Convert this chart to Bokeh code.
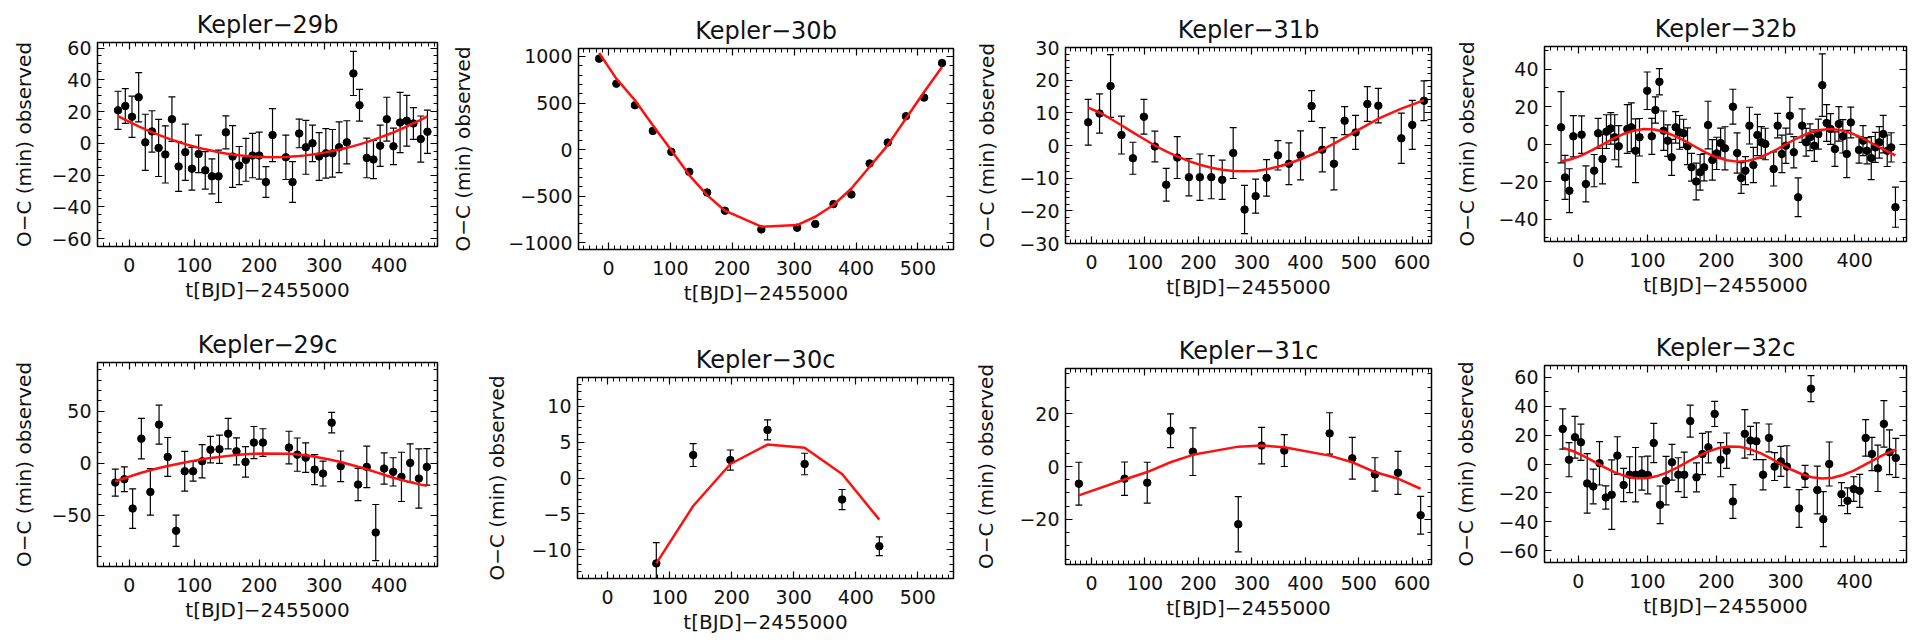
from bokeh.plotting import figure
from bokeh.layouts import column, row
from bokeh.models import LinearAxis, SingleIntervalTicker, CustomJSTickFormatter, Range1d
from bokeh.embed import file_html
from bokeh.resources import INLINE

# ---------------- data ----------------
k29b_t = [-17.4, -6.2, 4.1, 14.4, 24.6, 34.9, 45.1, 55.4, 65.6, 75.9, 86.2, 96.4, 106.7, 116.9, 127.2,
          137.4, 148.7, 159.0, 169.2, 179.5, 189.7, 200.0, 210.3, 220.5, 241.0, 251.3, 261.5, 271.8, 282.0,
          292.3, 302.6, 312.8, 323.0, 334.9, 345.0, 354.4, 365.6, 375.9, 386.2, 396.4, 406.7, 416.9, 427.2,
          437.4, 448.7, 459.0]
k29b_oc = [20.8, 23.5, 16.7, 29.0, 0.6, 7.5, -2.9, -7.0, 15.2, -14.6, -5.6, -16.0, -6.7, -17.0, -20.8,
           -20.8, 6.9, -8.3, -14.0, -10.4, -7.7, -7.7, -24.4, 5.2, -8.8, -24.4, 6.2, -2.5, 0.0,
           -8.3, -6.3, -6.3, -2.5, 0.6, 44.0, 24.0, -9.2, -10.2, -1.5, 15.2, -1.9, 13.1, 14.2,
           12.5, 2.7, 7.3]
k29b_err = [12, 11, 13, 15.5, 17.7, 13, 18, 18, 14, 15.7, 17.7, 13.5, 11.8, 11.8, 11,
            16.5, 10.4, 19.5, 12, 13.5, 14, 14.8, 9.7, 16.7, 14, 12.8, 9, 17, 11.5,
            15, 15.6, 15, 16, 13.6, 13.9, 10, 12.5, 12, 13, 13.8, 11.5, 19, 16,
            10, 14.5, 13.6]
k29b_model = [17.1, 14.7, 12.7, 10.7, 8.8, 7.0, 5.3, 3.7, 2.2, 0.8, -0.5, -1.7, -2.8, -3.8, -4.7,
              -5.6, -6.4, -7.0, -7.5, -8.0, -8.3, -8.55, -8.7, -8.75, -8.6, -8.3, -8.0, -7.6, -7.1,
              -6.4, -5.7, -4.9, -4.0, -2.85, -1.75, -0.65, 0.76, 2.2, 3.7, 5.25, 6.9, 8.7, 10.6,
              12.6, 14.8, 17.0]

k30b_t = [-15, 12.8, 42.8, 71.7, 101.6, 130.5, 159.4, 188.2, 247, 304.8, 334.2, 363.6, 392.5, 422,
          451.3, 480.7, 510, 539]
k30b_oc = [977, 708, 476, 200, -25, -240, -462, -658, -859, -841, -801, -587, -483, -150,
           75, 358, 558, 930]
k30b_model = [1038, 762, 530, 261, -7, -275, -490, -658, -830, -812, -723, -597, -419, -186,
              47, 333, 619, 886]

k31b_t = [-6.2, 15, 35.6, 56, 77.4, 98, 118.5, 139.7, 160.3, 182.2, 202.7, 224, 244.5, 265, 286.3,
          307, 327.5, 348.7, 369.3, 391, 411.7, 431.7, 453.5, 473.5, 494, 516, 536.5, 579.5, 600, 622]
k31b_oc = [7.1, 9.8, 18.2, 3.2, -3.9, 8.8, -0.3, -12, -3.7, -9.7, -9.7, -9.7, -10.5, -2.3, -19.6,
           -15.5, -9.9, -3, -5.6, -3, 12.1, -1.3, -5.6, 7.6, 4, 12.7, 12.2, 2.2, 6.3, 13.7]
k31b_err = [7, 6, 9.6, 5.8, 4.9, 5.3, 4.7, 5, 6.4, 5.7, 7.1, 6.6, 6, 7.8, 7.4,
            5.2, 5.6, 4.5, 6.4, 7.5, 4.7, 6.8, 8, 4.3, 5.2, 5.3, 5.3, 7.7, 7.5, 6.1]
k31b_model = [11.6, 10.1, 8.2, 6.2, 4.0, 2.0, 0.0, -1.8, -3.3, -4.8, -5.9, -6.8, -7.4, -7.8, -7.9,
              -7.8, -7.3, -6.5, -5.5, -4.2, -2.8, -1.3, 0.6, 2.4, 4.3, 6.3, 8.2, 11.3, 12.5, 13.9]

k32b_t = [-24.9, -19.2, -12.9, -7.2, 4.8, 11.0, 23.0, 28.7, 35.0, 40.7,
          47.0, 52.7, 58.5, 70.9, 76.7, 82.9, 88.6, 99.7, 106.4, 111.6,
          117.4, 123.6, 129.4, 135.1, 140.9, 146.6, 152.4, 158.1, 163.9, 170.6,
          176.3, 182.1, 187.8, 194.0, 200.3, 206.0, 212.3, 223.8, 229.9, 235.7,
          241.9, 247.7, 253.4, 259.2, 264.9, 270.7, 282.7, 288.5, 294.7, 300.4,
          306.2, 311.9, 318.2, 323.9, 329.7, 335.4, 341.6, 347.4, 353.1, 359.4,
          365.1, 371.4, 377.1, 382.9, 388.6, 394.4, 406.3, 412.1, 417.8, 424.0,
          429.8, 435.6, 441.3, 447.1, 452.8, 459.0]
k32b_oc = [8.9, -17.8, -24.9, 4.1, 5.0, -21.3, -14.2, 5.7, -8.0, 6.6,
           8.3, 3.6, -1.2, 8.0, 8.9, -3.6, 3.6, 28.4, 4.1, 18.1,
           33.2, 7.1, 1.8, -7.1, 8.9, 6.2, 5.7, -1.2, -12.4, -20.0,
           -15.1, -12.4, 10.1, -8.5, -5.0, 0.5, -2.3, 19.9, -4.8, -18.1,
           -14.2, 9.8, -11.2, 4.8, 0.9, 0.0, -13.3, 9.8, -5.3, -0.9,
           15.1, -4.4, -28.4, 9.8, 0.9, 3.6, -0.9, 5.3, 31.4, 11.2,
           8.0, -2.7, 10.7, 4.1, -5.3, 11.5, -3.2, 1.8, -3.6, -7.5,
           -1.8, 0.9, 5.3, -3.6, -1.8, -33.7]
k32b_err = [19, 11.7, 11.7, 11, 10, 9.6, 8.6, 8, 13.3, 9,
            8.4, 12, 11, 13, 13, 17, 10, 10, 9.6, 7,
            7, 10.5, 8.4, 9.6, 8.4, 9, 7.5, 9.8, 7.4, 9.8,
            9.5, 7.3, 12.7, 10.8, 8.6, 8, 11.5, 9.3, 10.7, 8.2,
            7.5, 9.8, 9.4, 11, 8.4, 8.4, 9.1, 6.5, 10, 9.4,
            9.8, 8.3, 10.3, 8.9, 7.4, 7.1, 8.4, 8, 16.7, 9.8,
            8.2, 9.2, 9.2, 8.9, 12.6, 8.2, 7, 8, 7, 11.5,
            8, 8.4, 10, 8.4, 7.8, 10.7]
k32b_model_t = [-25, -10, 5, 20, 35, 50, 65, 80, 95, 110, 125, 140, 155, 170, 185, 200, 215,
                230, 245, 260, 275, 290, 305, 320, 335, 350, 365, 380, 395, 410, 425, 440, 459]
k32b_model = [-9.2, -8.1, -6.1, -3.3, -0.3, 2.7, 5.3, 7.1, 8.0, 7.7, 6.4, 4.2, 1.5, -1.6, -4.6,
              -7.1, -8.7, -9.4, -9.0, -7.5, -5.2, -2.3, 0.8, 3.6, 6.0, 7.5, 8.0, 7.4, 5.8, 3.4,
              0.4, -2.6, -6.1]

k29c_t = [-21.6, -7.7, 5.1, 18.5, 32.4, 45.8, 59.1, 72.0, 85.3, 98.2, 112.1, 124.9, 138.8, 152.2,
          165.0, 178.9, 191.8, 205.7, 245.8, 258.6, 271.5, 285.3, 298.2, 311.6, 325.4, 352.2, 365.6,
          379.4, 392.3, 406.2, 419.0, 432.4, 445.8, 458.1]
k29c_oc = [-18.6, -15.4, -43.6, 23.7, -27.6, 37.2, 6.1, -65.0, -7.7, -7.7, 1.9, 13.1, 13.5, 28.5,
           11.5, 1.3, 19.9, 19.9, 15.1, 8.3, 5.4, -6.1, -9.9, 39.1, -2.9, -20.5, -3.5,
           -66.7, -5.1, -8.3, -13.1, 0.3, -14.7, -3.5]
k29c_err = [13, 12, 19, 19.5, 22.4, 18.7, 18.7, 15, 19.2, 9.6, 16, 12.8, 13.6, 14.7,
            13, 14.7, 15.5, 13.3, 15.7, 16, 14.2, 14.4, 12, 9.8, 14.7, 15.5, 20,
            27, 15, 13.6, 23.7, 18.4, 28.5, 17.6]
k29c_model = [-17.3, -14.5, -11.8, -9.2, -6.8, -4.6, -2.6, -0.9, 0.8, 2.3, 3.8, 5.0, 6.1, 7.1,
              7.9, 8.6, 9.1, 9.4, 9.1, 8.5, 7.6, 6.3, 4.9, 3.2, 1.2, -3.3, -5.8,
              -8.5, -11.1, -13.9, -16.0, -18.2, -20.1, -21.8]

k30c_t = [78.6, 138, 197.9, 257.8, 317.6, 378, 438]
k30c_oc = [-11.9, 3.2, 2.5, 6.7, 1.95, -3.0, -9.5]
k30c_err = [2.9, 1.6, 1.4, 1.4, 1.5, 1.4, 1.3]
k30c_model = [-11.9, -3.9, 1.95, 4.65, 4.2, 0.55, -5.8]

k31c_t = [-23.7, 61.8, 104.2, 147.8, 189.6, 274.5, 318.2, 360.6, 445.4, 487.8, 530.2, 573.3, 615.7]
k31c_oc = [-6.5, -4.6, -6.1, 13.5, 5.6, -21.8, 7.9, 6.0, 12.5, 3.1, -3.0, -2.4, -18.4]
k31c_err = [8.1, 6.3, 7.7, 6.4, 9.0, 10.4, 6.9, 6.0, 7.8, 7.9, 6.3, 8.1, 7.1]
k31c_model = [-10.9, -4.9, -2.1, 1.6, 4.4, 7.5, 7.9, 7.25, 4.1, 1.6, -2.1, -4.6, -8.4]

k32c_t = [-22.5, -13.4, -4.8, 3.8, 12.9, 21.6, 30.7, 39.8, 48.4, 56.5,
          65.6, 74.3, 82.9, 92.0, 100.6, 109.2, 118.4, 127.0, 135.6, 144.7,
          153.3, 162.0, 171.1, 179.7, 188.3, 197.4, 206.0, 214.7, 223.8, 241.0,
          249.2, 257.8, 267.4, 276.0, 284.1, 293.2, 301.9, 319.6, 328.2, 336.8,
          345.9, 354.6, 363.2, 380.9, 389.6, 398.7, 407.3, 415.9, 425.0, 433.6,
          442.3, 450.4, 459.5]
k32c_oc = [24.2, 3.0, 18.5, 15.0, -13.4, -15.5, 0.5, -23.1, -21.2, 5.8,
           -14.5, -7.4, -7.4, -6.5, -7.6, 14.5, -28.2, -11.5, 1.2, -7.4,
           -7.4, 29.6, -9.2, 6.9, 11.5, 34.6, 3.0, 9.2, -25.9, 20.8,
           16.2, 15.7, -7.4, 18.0, -1.8, 1.8, -1.8, -30.7, -8.5, 52.0,
           -18.0, -38.1, 0.0, -20.8, -25.4, -17.3, -18.5, 18.0, 6.9, -3.0,
           27.7, 8.1, 4.2]
k32c_err = [13.9, 11.8, 14.4, 12.5, 20.5, 12, 15, 8, 24, 13,
            11.5, 12.4, 18.8, 11.5, 13, 13.6, 13, 16.7, 12.4, 11.7,
            15.6, 11, 10, 14.3, 10.7, 8.7, 11.8, 12.2, 11.7, 16.7,
            9.8, 12.7, 10.4, 9.6, 9.6, 10.4, 14.4, 13, 7.6, 9,
            16.5, 19, 15.2, 8, 8.9, 8.5, 11.4, 12.6, 11.5, 16,
            16, 15.5, 13.5]
k32c_model_t = [-22, -7, 8, 23, 38, 53, 68, 83, 98, 113, 128, 143, 158, 173, 188, 203, 218,
                233, 248, 263, 278, 293, 308, 323, 338, 353, 368, 383, 398, 413, 428, 443, 460]
k32c_model = [11.1, 8.8, 5.5, 1.6, -2.3, -5.8, -8.4, -9.8, -9.8, -8.5, -6.0, -2.5, 1.4, 5.2, 8.6,
              11.0, 12.1, 11.9, 10.3, 7.6, 4.0, 0.0, -3.8, -6.9, -9.1, -10.0, -9.5, -7.6, -4.7,
              -1.0, 2.9, 6.7, 10.0]

titles = ["Kepler\u221229b", "Kepler\u221230b", "Kepler\u221231b", "Kepler\u221232b",
          "Kepler\u221229c", "Kepler\u221230c", "Kepler\u221231c", "Kepler\u221232c"]
x_label = "t[BJD]\u22122455000"
y_label = "O\u2212C (min) observed"

# ---------------- styling ----------------
FONT = "DejaVu Sans"
TXT = "#111111"

fmt_code = "return (tick < 0 ? '\u2212' : '') + Math.abs(Math.round(tick)).toString();"


def style_axis(ax, show):
    ax.axis_line_color = None
    ax.major_tick_in = 7
    ax.major_tick_out = 0
    ax.minor_tick_in = 4
    ax.minor_tick_out = 0
    ax.major_tick_line_color = "black"
    ax.minor_tick_line_color = "black"
    ax.major_tick_line_width = 1.2
    ax.minor_tick_line_width = 1
    if show:
        ax.formatter = CustomJSTickFormatter(code=fmt_code)
        ax.major_label_text_font = FONT
        ax.major_label_text_font_size = "19px"
        ax.major_label_text_color = TXT
        ax.axis_label_text_font = FONT
        ax.axis_label_text_font_size = "20px"
        ax.axis_label_text_font_style = "normal"
        ax.axis_label_text_color = TXT
    else:
        ax.formatter = CustomJSTickFormatter(code="return '';")
        ax.major_label_text_font_size = "1px"
        ax.major_label_standoff = 0


def panel(title, t, oc, err, mt, mv, xr, yr, ytick, yminor, w, h, bl, br, bt, bb, ystand):
    p = figure(width=w, height=h, x_range=Range1d(*xr), y_range=Range1d(*yr),
               x_axis_type=None, y_axis_type=None,
               output_backend="svg", toolbar_location=None,
               min_border_left=bl, min_border_right=br, min_border_top=bt, min_border_bottom=bb)
    p.background_fill_color = "white"
    p.border_fill_color = "white"
    p.outline_line_color = "black"
    p.outline_line_width = 1.5
    p.outline_line_alpha = 1.0

    for side in ["below", "above"]:
        ax = LinearAxis(ticker=SingleIntervalTicker(interval=100, num_minor_ticks=10))
        style_axis(ax, side == "below")
        if side == "below":
            ax.axis_label = x_label
            ax.major_label_standoff = 11
            ax.axis_label_standoff = 3
        p.add_layout(ax, side)
    for side in ["left", "right"]:
        ax = LinearAxis(ticker=SingleIntervalTicker(interval=ytick, num_minor_ticks=yminor))
        style_axis(ax, side == "left")
        if side == "left":
            ax.axis_label = y_label
            ax.major_label_standoff = 6
            ax.axis_label_standoff = ystand
        p.add_layout(ax, side)

    p.title.text = title
    p.title.align = "center"
    p.title.text_font = FONT
    p.title.text_font_size = "24px"
    p.title.text_font_style = "normal"
    p.title.text_color = TXT
    p.title.standoff = 7

    if err is not None:
        lo = [v - e for v, e in zip(oc, err)]
        hi = [v + e for v, e in zip(oc, err)]
        p.segment(x0=t, y0=lo, x1=t, y1=hi, line_color="black", line_width=1.2)
        p.scatter(x=t, y=lo, marker="dash", size=7, line_color="black", line_width=1.2)
        p.scatter(x=t, y=hi, marker="dash", size=7, line_color="black", line_width=1.2)
    p.scatter(x=t, y=oc, size=7.5, fill_color="black", line_color="black")
    p.line(x=mt, y=mv, line_color="#ff1010", line_width=2.5)
    return p


# page has no margin: columns 448, 510, 480, 477 ; rows 321 each
XR1 = (-49, 474.5)
XR2 = (-48.4, 557.5)
XR3 = (-48.7, 636)
XR4 = (-48.9, 475)

p1 = panel(titles[0], k29b_t, k29b_oc, k29b_err, k29b_t, k29b_model, XR1, (-65, 63.5), 20, 4,
           448, 321, 97, 11, 42, 75, 12)
p2 = panel(titles[1], k30b_t, k30b_oc, None, k30b_t, k30b_model, XR2, (-1075, 1086), 500, 5,
           510, 321, 129, 5, 48, 72, 30)
p3 = panel(titles[2], k31b_t, k31b_oc, k31b_err, k31b_t, k31b_model, XR3, (-30, 30), 10, 5,
           480, 321, 107, 7, 47, 78, 17)
p4 = panel(titles[3], k32b_t, k32b_oc, k32b_err, k32b_model_t, k32b_model, XR4, (-52, 52), 20, 2,
           477, 321, 106, 9, 46, 80, 16)
p5 = panel(titles[4], k29c_t, k29c_oc, k29c_err, k29c_t, k29c_model, XR1, (-99.4, 97), 50, 5,
           448, 321, 97, 11, 41, 76, 12)
p6 = panel(titles[5], k30c_t, k30c_oc, k30c_err, k30c_t, k30c_model, XR2, (-14, 14), 5, 5,
           510, 321, 129, 5, 56, 64, 19)
p7 = panel(titles[6], k31c_t, k31c_oc, k31c_err, k31c_t, k31c_model, XR3, (-37, 37), 20, 4,
           480, 321, 107, 7, 47, 78, 18)
p8 = panel(titles[7], k32c_t, k32c_oc, k32c_err, k32c_model_t, k32c_model, XR4, (-68, 68), 20, 2,
           477, 321, 106, 9, 44, 80, 17)

# each plot in its own column so that frames keep their own borders
layout = column(row(*[column(p) for p in (p1, p2, p3, p4)]),
                row(*[column(p) for p in (p5, p6, p7, p8)]))

with open("out.html", "w", encoding="utf-8") as f:
    f.write(file_html(layout, INLINE))
